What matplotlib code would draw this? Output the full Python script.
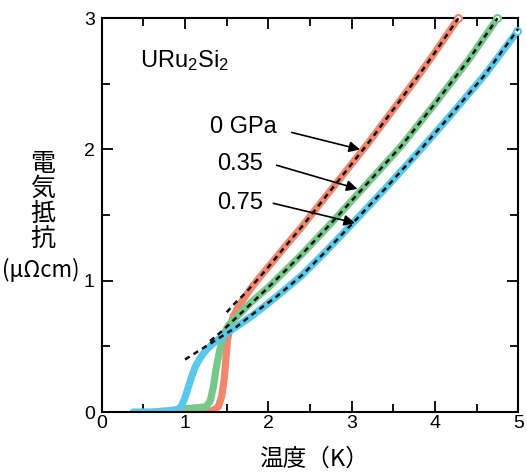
import matplotlib
matplotlib.use("Agg")
import matplotlib.pyplot as plt
from matplotlib.ticker import MultipleLocator

plt.rcParams['font.family'] = ['Liberation Sans', 'Noto Sans CJK JP']
plt.rcParams['mathtext.fontset'] = 'custom'
plt.rcParams['mathtext.rm'] = 'Liberation Sans'

# resistivity data (T in K, rho in micro-ohm cm)
T_0 = [0.95, 1.20, 1.33, 1.40, 1.44, 1.47, 1.49, 1.51, 1.54, 1.58, 1.64, 1.70, 1.80, 1.90, 2.02,
       2.2, 2.4, 2.6, 2.8, 3.0, 3.2, 3.4, 3.6, 3.8, 4.0, 4.28]
rho_0 = [0.0, 0.0, 0.01, 0.04, 0.12, 0.25, 0.40, 0.55, 0.65, 0.73, 0.80, 0.86, 0.95, 1.03, 1.12,
         1.26, 1.41, 1.57, 1.73, 1.89, 2.05, 2.22, 2.39, 2.56, 2.74, 3.00]

T_035 = [0.95, 1.10, 1.25, 1.30, 1.34, 1.37, 1.40, 1.43, 1.47, 1.52, 1.58, 1.66, 1.80, 2.0,
         2.4, 2.8, 3.2, 3.6, 4.0, 4.4, 4.75]
rho_035 = [0.02, 0.03, 0.04, 0.08, 0.19, 0.32, 0.42, 0.51, 0.60, 0.66, 0.70, 0.75, 0.84, 0.95,
           1.20, 1.47, 1.75, 2.03, 2.35, 2.68, 3.00]

T_075 = [0.38, 0.60, 0.80, 0.92, 0.96, 1.00, 1.04, 1.08, 1.12, 1.18, 1.25, 1.35, 1.5, 1.8,
         2.1, 2.4, 2.7, 3.0, 3.4, 3.8, 4.2, 4.6, 4.99]
rho_075 = [0.0, 0.0, 0.01, 0.02, 0.05, 0.11, 0.19, 0.27, 0.34, 0.41, 0.47, 0.53, 0.60, 0.73,
           0.88, 1.04, 1.23, 1.43, 1.70, 1.98, 2.27, 2.57, 2.90]

# fit curves (dashed)
fitT_0 = [1.50, 1.60, 1.70, 1.80, 1.90, 2.02, 2.2, 2.4, 2.6, 2.8, 3.0, 3.2, 3.4, 3.6, 3.8, 4.0, 4.28]
fitrho_0 = [0.76, 0.83, 0.89, 0.96, 1.03, 1.12, 1.26, 1.41, 1.57, 1.73, 1.89, 2.05, 2.22, 2.39,
            2.56, 2.74, 3.00]

fitT_035 = [1.30, 1.45, 1.6, 1.8, 2.0, 2.4, 2.8, 3.2, 3.6, 4.0, 4.4, 4.75]
fitrho_035 = [0.54, 0.62, 0.71, 0.83, 0.95, 1.20, 1.47, 1.75, 2.03, 2.35, 2.68, 3.00]

fitT_075 = [1.00, 1.2, 1.4, 1.6, 1.8, 2.1, 2.4, 2.7, 3.0, 3.4, 3.8, 4.2, 4.6, 5.0]
fitrho_075 = [0.40, 0.48, 0.56, 0.64, 0.74, 0.88, 1.04, 1.23, 1.43, 1.70, 1.98, 2.27, 2.57, 2.92]

labels = ['0 GPa', '0.35', '0.75']
colors = ['#F0876E', '#78C88C', '#5AC8EB']

fig = plt.figure(figsize=(5.27, 4.75), dpi=100)
ax = fig.add_axes([0.193, 0.1326, 0.7905, 0.829])

series = [(T_0, rho_0), (T_035, rho_035), (T_075, rho_075)]
fits = [(fitT_0, fitrho_0), (fitT_035, fitrho_035), (fitT_075, fitrho_075)]

for (T, rho), c in zip(series, colors):
    ax.plot(T, rho, color=c, lw=5.2, solid_capstyle='round', solid_joinstyle='round', zorder=2)
    ax.plot(T[-1], rho[-1], 'o', ms=5, mfc='white', mec=c, mew=1.5, zorder=3, clip_on=False)

for fT, frho in fits:
    ax.plot(fT, frho, color='#111111', lw=1.8, linestyle=(0, (2.2, 1.8)), zorder=4, clip_on=False)

# pressure labels with arrows
text_pos = [(1.70, 2.17), (1.66, 1.89), (1.66, 1.59)]
arrow_start = [(2.28, 2.13), (2.10, 1.88), (2.06, 1.59)]
arrow_tip = [(3.10, 2.00), (3.07, 1.70), (3.04, 1.44)]
for lab, tp, st, tip in zip(labels, text_pos, arrow_start, arrow_tip):
    ax.text(tp[0], tp[1], lab, fontsize=17, ha='center', va='center')
    ax.annotate('', xy=tip, xytext=st,
                arrowprops=dict(arrowstyle='-|>', color='black', lw=1.2, mutation_scale=16,
                                shrinkA=0, shrinkB=0))

ax.text(0.46, 2.68, r'$\mathregular{URu_2Si_2}$', fontsize=17, ha='left', va='center')

ax.set_xlim(0, 5)
ax.set_ylim(0, 3)
ax.xaxis.set_major_locator(MultipleLocator(1))
ax.xaxis.set_minor_locator(MultipleLocator(0.5))
ax.yaxis.set_major_locator(MultipleLocator(1))
ax.yaxis.set_minor_locator(MultipleLocator(0.5))
ax.tick_params(which='both', direction='in', top=True, right=True, width=1.3, labelsize=14)
ax.tick_params(which='major', length=8)
ax.tick_params(which='minor', length=5.5)
ax.tick_params(axis='x', pad=2)
ax.tick_params(axis='y', pad=5)
for s in ax.spines.values():
    s.set_linewidth(1.5)

cjk = ['Noto Sans CJK JP', 'DejaVu Sans']
fig.text(43 / 527, 1 - 201 / 475, '電\n気\n抵\n抗', ha='center', va='center',
         family=cjk, fontsize=18, linespacing=0.95)
fig.text(41 / 527, 1 - 270 / 475, '(μΩcm)', ha='center', va='center', family=cjk, fontsize=16)
fig.text(314 / 527, 1 - 459 / 475, '温度（K）', ha='center', va='center', family=cjk, fontsize=17)

fig.savefig('out.png', dpi=100)
